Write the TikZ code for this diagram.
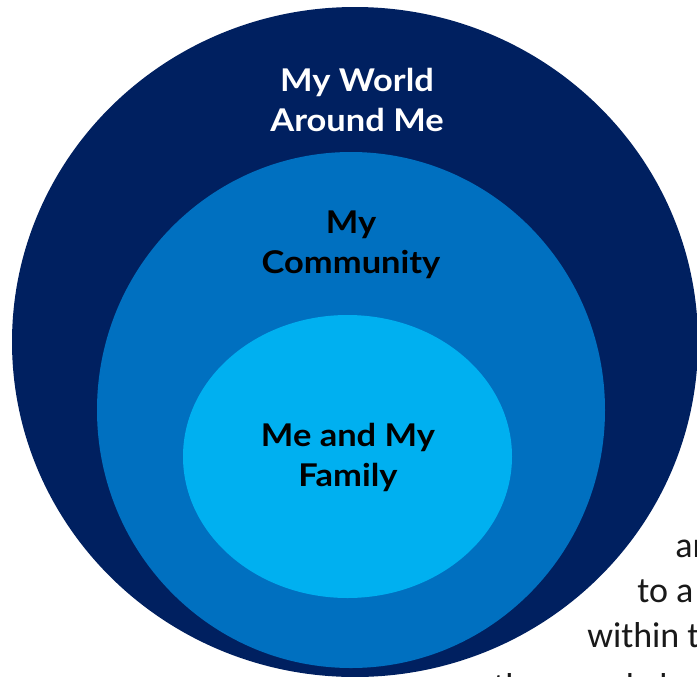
\documentclass[tikz,border=0pt]{standalone}
\usepackage{fontspec}
\setmainfont{Lato}
\newfontfamily\labelfont[FakeStretch=1.1]{Lato}
\newfontfamily\bodyfont{Carlito}
\definecolor{navy}{HTML}{002060}
\definecolor{midblue}{HTML}{0070C0}
\definecolor{lightblue}{HTML}{00B0F0}
\tikzset{
  ringlabel/.style={align=center, font=\labelfont\fontsize{23.5}{30}\selectfont\bfseries, inner sep=0pt},
  bodyline/.style={anchor=base west, inner sep=0pt, font=\bodyfont\fontsize{27}{33}\selectfont, text=black!90}
}
\begin{document}
\begin{tikzpicture}[x=0.75pt,y=-0.75pt]
\useasboundingbox (0,0) rectangle (697,676);
\clip (0,0) rectangle (697,676);
\fill[white] (0,0) rectangle (697,676);
\fill[navy] (355,342) ellipse [x radius=343, y radius=335];
\fill[midblue] (351,410) ellipse [x radius=254, y radius=258];
\fill[lightblue] (347.5,456.5) ellipse [x radius=164.5, y radius=141.5];
\node[ringlabel, text=white] (world) at (357,100) {My World\\Around Me};
\node[ringlabel, text=black] (community) at (351,245) {My\\Community};
\node[ringlabel, text=black] (family) at (348,457) {Me and My\\Family};
\node[bodyline] (l1) at (675,557) {and};
\node[bodyline] (l2) at (637,602) {to a};
\node[bodyline] (l3) at (587,647) {within the};
\node[bodyline] (l4) at (493,698) {them and about the};
\end{tikzpicture}
\end{document}
